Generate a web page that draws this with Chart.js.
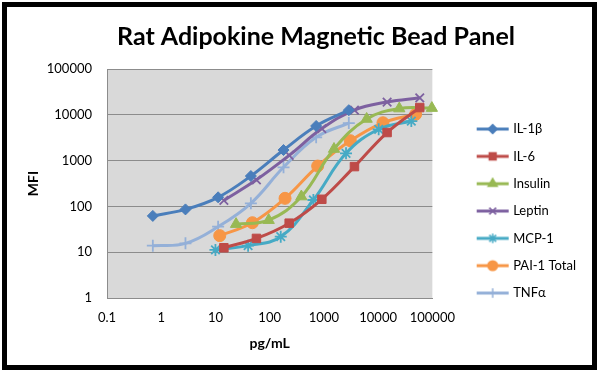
<!DOCTYPE html>
<html>
<head>
<meta charset="utf-8">
<script src="https://cdn.jsdelivr.net/npm/chart.js@4.4.1/dist/chart.umd.min.js"></script>
<style>
  html, body { margin: 0; padding: 0; background: #fff; }
  #wrap { position: relative; width: 600px; height: 372px; }
  #frame { position: absolute; left: 2px; top: 2px; width: 595px; height: 368px;
           border: 5px solid #000; box-sizing: border-box; pointer-events: none; }
</style>
</head>
<body>
<div id="wrap">
  <canvas id="adipokine" width="600" height="372"></canvas>
  <div id="frame"></div>
</div>
<script>
//----------------------------------------------
// data (pg/mL vs MFI)
//----------------------------------------------
const xTicks = [0.1, 1, 10, 100, 1000, 10000, 100000];
const yTicks = [1, 10, 100, 1000, 10000, 100000];

const seriesNames = ['IL-1\u03b2', 'IL-6', 'Insulin', 'Leptin', 'MCP-1', 'PAI-1 Total', 'TNF\u03b1'];

const il1bConc = [0.7, 2.8, 11.2, 45, 180, 720, 2880];
const il1bMfi  = [62, 86, 158, 460, 1700, 5700, 12600];

const il6Conc = [14.3, 57, 229, 916, 3660, 14650, 58600];
const il6Mfi  = [12.5, 20, 43, 143, 740, 4100, 14400];

const insulinConc = [24, 96, 384, 1536, 6144, 24576, 98000];
const insulinMfi  = [41, 50, 164, 1790, 8100, 13700, 14000];

const leptinConc = [14.3, 57, 229, 916, 3660, 14650, 58600];
const leptinMfi  = [135, 380, 1300, 5000, 12700, 19000, 23500];

const mcp1Conc = [10, 40, 160, 640, 2560, 10240, 40960];
const mcp1Mfi  = [11.2, 13.9, 21.8, 138, 1440, 4830, 7300];

const pai1Conc = [12, 48, 192, 768, 3072, 12288, 49152];
const pai1Mfi  = [23, 44, 150, 760, 2720, 6700, 10250];

const tnfConc = [0.7, 2.8, 11.2, 45, 180, 720, 2880];
const tnfMfi  = [13.9, 15.6, 36, 117, 714, 3230, 6600];

const seriesConc = [il1bConc, il6Conc, insulinConc, leptinConc, mcp1Conc, pai1Conc, tnfConc];
const seriesMfi  = [il1bMfi, il6Mfi, insulinMfi, leptinMfi, mcp1Mfi, pai1Mfi, tnfMfi];

// styling
const colors  = ['#4a7ebb', '#be4b48', '#98b954', '#7d60a0', '#46aac5', '#f79646', '#94b0d8'];
const markers = ['rectRot', 'rect', 'triangle', 'crossRot', 'star', 'circle', 'cross'];
const radii   = [5.5, 6, 6.5, 6, 6, 6, 6];

Chart.defaults.font.family = 'Lato, "Open Sans", sans-serif';
Chart.defaults.color = '#1a1a1a';

// little legend icon: line with the marker in the middle
function legendIcon(i) {
  const c = document.createElement('canvas');
  c.width = 68; c.height = 14;
  const g = c.getContext('2d');
  g.strokeStyle = colors[i];
  g.fillStyle = colors[i];
  g.lineWidth = 3;
  g.beginPath(); g.moveTo(34, 7); g.lineTo(66, 7); g.stroke();
  g.lineWidth = 1.5;
  Chart.helpers.drawPoint(g, {pointStyle: markers[i], radius: radii[i] * 0.8, borderWidth: 1.5, rotation: 0}, 50, 7);
  return c;
}

const datasets = seriesNames.map((name, i) => ({
  label: name,
  data: seriesConc[i].map((x, k) => ({x: x, y: seriesMfi[i][k]})),
  borderColor: colors[i],
  backgroundColor: colors[i],
  borderWidth: 3,
  tension: 0.4,
  pointStyle: markers[i],
  pointRadius: radii[i],
  pointBorderWidth: (markers[i] === 'crossRot' || markers[i] === 'star' || markers[i] === 'cross') ? 1.8 : 1,
  showLine: true,
  fill: false,
  clip: false
}));

const plotBackground = {
  id: 'plotBackground',
  beforeDraw(chart) {
    const {ctx, chartArea: a} = chart;
    ctx.save();
    ctx.fillStyle = '#d9d9d9';
    ctx.fillRect(a.left, a.top, a.right - a.left, a.bottom - a.top);
    ctx.restore();
  }
};

const ctx = document.getElementById('adipokine').getContext('2d');

const adipokineChart = new Chart(ctx, {
  type: 'scatter',
  data: { datasets: datasets },
  plugins: [plotBackground],
  options: {
    responsive: false,
    animation: false,
    layout: { padding: { left: 46, right: 14, top: 5, bottom: 8 } },
    plugins: {
      title: {
        display: true,
        text: 'Rat Adipokine Magnetic Bead Panel',
        color: '#000',
        font: { size: 25, weight: 'bold' },
        padding: { top: 17, bottom: 17 }
      },
      legend: {
        position: 'right',
        align: 'start',
        maxWidth: 220,
        title: { display: true, text: '', padding: { top: 88.8, bottom: 0 } },
        labels: {
          usePointStyle: true,
          pointStyleWidth: 60,
          padding: 14.33,
          color: '#000',
          font: { size: 13 },
          generateLabels(chart) {
            const items = Chart.defaults.plugins.legend.labels.generateLabels(chart);
            items.forEach((it, i) => { it.pointStyle = legendIcon(i); });
            return items;
          }
        }
      },
      tooltip: { enabled: false }
    },
    scales: {
      x: {
        type: 'logarithmic',
        min: 0.1,
        max: 100000,
        afterBuildTicks(scale) { scale.ticks = xTicks.map(v => ({value: v})); },
        afterFit(scale) { scale.height = 66; },
        ticks: {
          padding: 12,
          autoSkip: false,
          maxRotation: 0,
          color: '#000',
          font: { size: 13 },
          callback: (v) => String(v)
        },
        grid: { display: false, drawTicks: false },
        border: { display: true, color: '#8c8c8c' },
        title: {
          display: true,
          text: 'pg/mL',
          color: '#000',
          font: { size: 14, weight: 'bold' },
          padding: { top: 0, bottom: 12.6 }
        }
      },
      y: {
        type: 'logarithmic',
        min: 1,
        max: 100000,
        afterBuildTicks(scale) { scale.ticks = yTicks.map(v => ({value: v})); },
        afterFit(scale) { scale.width = 61; },
        ticks: {
          padding: 15,
          color: '#000',
          font: { size: 13 },
          callback: (v) => String(v)
        },
        grid: { color: '#8c8c8c', lineWidth: 1, drawTicks: false },
        border: { display: true, color: '#8c8c8c' },
        title: {
          display: true,
          text: 'MFI',
          color: '#000',
          font: { size: 14, weight: 'bold' },
          padding: { top: -21.4, bottom: 0 }
        }
      }
    }
  }
});
</script>
</body>
</html>
